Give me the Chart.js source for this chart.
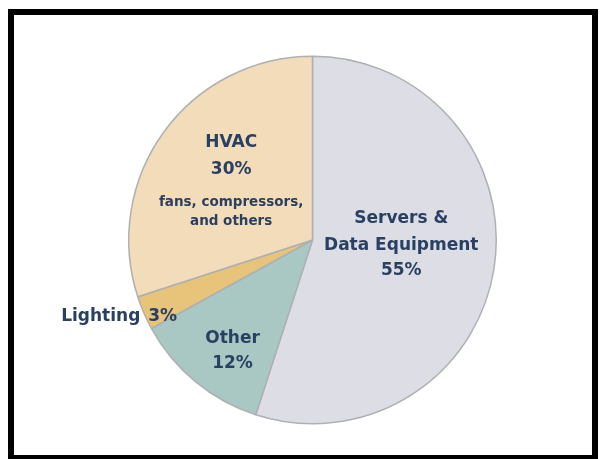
<!DOCTYPE html>
<html>
<head>
<meta charset="utf-8">
<title>Data center energy use</title>
<script src="https://cdn.jsdelivr.net/npm/chart.js@4.4.1/dist/chart.umd.min.js"></script>
<style>
    html, body {
        margin: 0;
        padding: 0;
        background: #ffffff;
        overflow: hidden;
    }
    .stage {
        position: relative;
        width: 601px;
        height: 459px;
    }
    .frame {
        position: absolute;
        left: 8px;
        top: 9px;
        width: 590px;
        height: 452px;
        border: 6px solid #000000;
        box-sizing: border-box;
        pointer-events: none;
    }
    canvas {
        position: absolute;
        left: 0;
        top: 0;
    }
</style>
</head>
<body>
<div class="stage">
    <canvas id="energyPie" width="601" height="459"></canvas>
    <div class="frame"></div>
</div>
<script>
// Slices, clockwise from 12 o'clock
const categories = ['Servers & Data Equipment', 'Other', 'Lighting', 'HVAC'];
const shares = [55, 12, 3, 30];
const sliceColors = ['#dcdde5', '#a9c7c3', '#e7c479', '#f2dcb9'];

// Text written on each slice
const sliceLabels = [
    [{ text: 'Servers &', size: 17 }, { text: 'Data Equipment', size: 17 }, { text: '55%', size: 17 }],
    [{ text: 'Other', size: 17 }, { text: '12%', size: 17 }],
    [{ text: '3%', size: 17 }],
    [{ text: 'HVAC', size: 17 }, { text: '30%', size: 17 }, { text: 'fans, compressors,', size: 13.5 }, { text: 'and others', size: 13.5 }]
];

const TEXT_COLOR = '#2a4063';
const FONT = '"DejaVu Sans", Verdana, sans-serif';

// where each label block sits: fraction of radius along the slice's mid angle, nudge, line offsets
const labelPlacement = [
    { frac: 0.5, dx: -2, dy: 0, lines: [-36, -9, 16] },
    { frac: 0.7, dx: 2, dy: 0, lines: [-1, 24] },
    { frac: 0.9, dx: 2, dy: 11, lines: [0] },
    { frac: 0.5, dx: -7, dy: 0, lines: [-43, -16, 17, 36] }
];

const sliceText = {
    id: 'sliceText',
    afterDatasetsDraw(chart) {
        const ctx = chart.ctx;
        const arcs = chart.getDatasetMeta(0).data;

        ctx.save();
        ctx.fillStyle = TEXT_COLOR;
        ctx.textBaseline = 'middle';

        arcs.forEach((arc, i) => {
            const { x, y, startAngle, endAngle, outerRadius } = arc.getProps(['x', 'y', 'startAngle', 'endAngle', 'outerRadius'], true);
            const mid = (startAngle + endAngle) / 2;
            const place = labelPlacement[i];
            const ax = x + Math.cos(mid) * outerRadius * place.frac + place.dx;
            const ay = y + Math.sin(mid) * outerRadius * place.frac + place.dy;

            sliceLabels[i].forEach((line, j) => {
                ctx.font = `bold ${line.size}px ${FONT}`;
                ctx.textAlign = 'center';
                ctx.fillText(line.text, ax, ay + place.lines[j]);
            });

            // the lighting name sits outside the pie, left of its percentage
            if (i === 2) {
                const pctWidth = ctx.measureText(sliceLabels[i][0].text).width;
                ctx.font = `bold 17px ${FONT}`;
                ctx.textAlign = 'right';
                ctx.fillText('Lighting', ax - pctWidth / 2 - 8, ay + place.lines[0]);
            }
        });

        ctx.restore();
    }
};

new Chart(document.getElementById('energyPie'), {
    type: 'pie',
    data: {
        labels: categories,
        datasets: [{
            data: shares,
            backgroundColor: sliceColors,
            borderColor: '#aeb0b2',
            borderWidth: 1.5
        }]
    },
    options: {
        responsive: false,
        animation: false,
        events: [],
        layout: {
            padding: { left: 128, right: 104, top: 55, bottom: 34 }
        },
        plugins: {
            legend: { display: false },
            tooltip: { enabled: false }
        }
    },
    plugins: [sliceText]
});
</script>
</body>
</html>
